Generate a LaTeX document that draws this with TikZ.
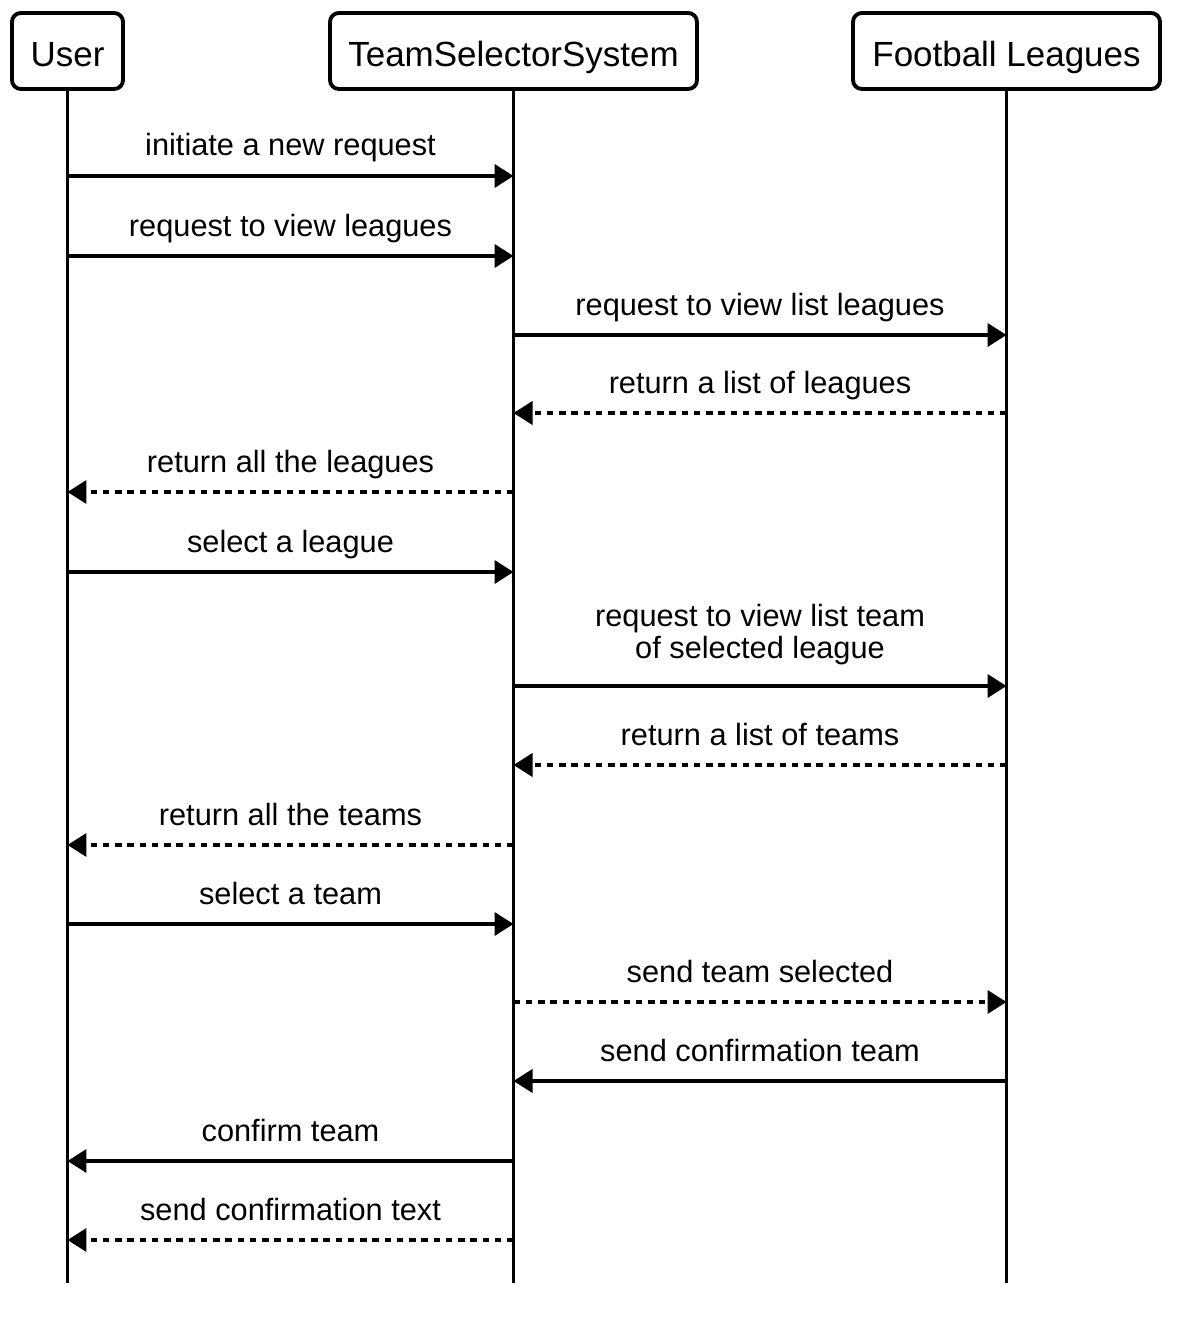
\documentclass[tikz,border=0pt]{standalone}
\usepackage{fontspec}
\setmainfont{Liberation Sans}
\usetikzlibrary{arrows.meta, calc}

\begin{document}
\begin{tikzpicture}[
    x=0.02cm, y=-0.02cm,
    actor/.style={rectangle, draw=black, fill=white, line width=2.2pt, rounded corners=5pt,
                  minimum height=1.52cm, inner sep=0pt, text height=0.63cm, text depth=0pt,
                  font=\fontsize{19.9pt}{23pt}\selectfont},
    life/.style={line width=2.2pt},
    msg/.style={-{Triangle[length=0.38cm, width=0.46cm]}, line width=2.2pt},
    reply/.style={msg, dash pattern=on 0.13cm off 0.115cm},
    msgtext/.style={midway, anchor=base, yshift=0.4cm, inner sep=0pt,
                    font=\fontsize{17.5pt}{18.6pt}\selectfont}
]
\useasboundingbox (0,0) rectangle (1178,1334);
\node[actor, minimum width=2.22cm] (user) at (67.5,51) {User};
\node[actor, minimum width=7.34cm] (sys) at (513.5,51) {TeamSelectorSystem};
\node[actor, minimum width=6.14cm] (fl) at (1006.5,51) {Football Leagues};
%% lifelines
\coordinate (end) at (0,1283);
\draw[life] (user.south) -- (user.south |- end);
\draw[life] (sys.south) -- (sys.south |- end);
\draw[life] (fl.south) -- (fl.south |- end);
%% one point per message on each lifeline
\foreach \i/\y in {1/176, 2/256, 3/335, 4/413, 5/492, 6/572, 7/686,
                   8/765, 9/845, 10/924, 11/1002, 12/1081, 13/1161, 14/1240} {
  \coordinate (u\i) at (user.south |- 0,\y);
  \coordinate (s\i) at (sys.south |- 0,\y);
  \coordinate (f\i) at (fl.south |- 0,\y);
}
\draw[msg] (u1) -- (s1) node[msgtext] {initiate a new request};
\draw[msg] (u2) -- (s2) node[msgtext] {request to view leagues};
\draw[msg] (s3) -- (f3) node[msgtext] {request to view list leagues};
\draw[reply] (f4) -- (s4) node[msgtext] {return a list of leagues};
\draw[reply] (s5) -- (u5) node[msgtext] {return all the leagues};
\draw[msg] (u6) -- (s6) node[msgtext] {select a league};
\draw[msg] (s7) -- (f7) node[msgtext, anchor=south, yshift=-0.02cm, align=center]
    {request to view list team\\of selected league};
\draw[reply] (f8) -- (s8) node[msgtext] {return a list of teams};
\draw[reply] (s9) -- (u9) node[msgtext] {return all the teams};
\draw[msg] (u10) -- (s10) node[msgtext] {select a team};
\draw[reply] (s11) -- (f11) node[msgtext] {send team selected};
\draw[msg] (f12) -- (s12) node[msgtext] {send confirmation team};
\draw[msg] (s13) -- (u13) node[msgtext] {confirm team};
\draw[reply] (s14) -- (u14) node[msgtext] {send confirmation text};
\end{tikzpicture}
\end{document}
